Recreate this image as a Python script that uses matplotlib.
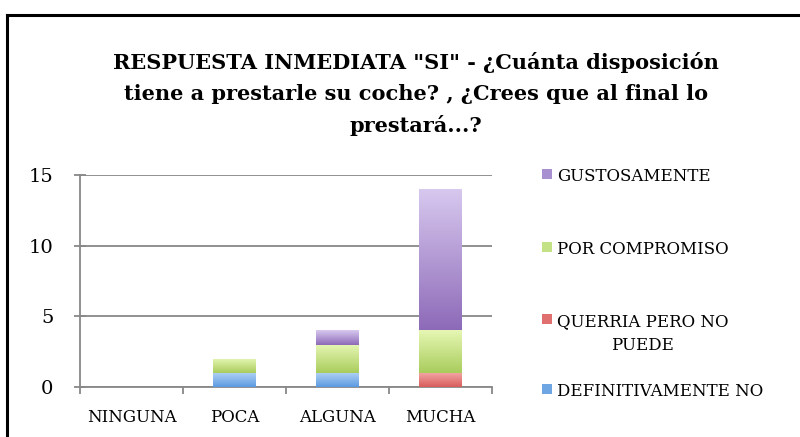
import numpy as np
import matplotlib.pyplot as plt
from matplotlib.patches import Rectangle
from matplotlib.lines import Line2D
from matplotlib.colors import LinearSegmentedColormap

categories = ['NINGUNA', 'POCA', 'ALGUNA', 'MUCHA']
series_names = ['DEFINITIVAMENTE NO', 'QUERRIA PERO NO\nPUEDE', 'POR COMPROMISO', 'GUSTOSAMENTE']
definitivamente_no = [0, 1, 1, 0]
querria_pero_no = [0, 0, 0, 1]
por_compromiso = [0, 1, 2, 3]
gustosamente = [0, 0, 1, 10]
yticks = [0, 5, 10, 15]

values = [definitivamente_no, querria_pero_no, por_compromiso, gustosamente]
# (top colour, bottom colour) for the gradient fill
grads = [('#b3d3f5', '#5b9ae0'),
         ('#f4a8a8', '#d85c5c'),
         ('#e6f7b4', '#a9cc5c'),
         ('#d8c9ef', '#8d6ab8')]
legend_colors = ['#6ea6e4', '#e07070', '#c2e285', '#a78fd0']

plt.rcParams['font.family'] = ['DejaVu Serif']

fig = plt.figure(figsize=(8, 4.37), dpi=100)
ax = fig.add_axes([80 / 800, 1 - 387 / 437, 412 / 800, 212 / 437])

x = np.arange(len(categories))
width = 0.41
bottom = np.zeros(len(categories))
grad = np.linspace(1, 0, 256).reshape(-1, 1)
for vals, (ctop, cbot) in zip(values, grads):
    cmap = LinearSegmentedColormap.from_list('g', [cbot, ctop])
    bars = ax.bar(x, vals, width, bottom=bottom, color='none', edgecolor='none', zorder=3)
    for b in bars:
        if b.get_height() <= 0:
            continue
        x0, y0 = b.get_x(), b.get_y()
        im = ax.imshow(grad, cmap=cmap, aspect='auto', vmin=0, vmax=1,
                       extent=(x0, x0 + b.get_width(), y0, y0 + b.get_height()),
                       zorder=3)
        im.set_clip_path(b)
    bottom += np.array(vals)

ax.set_xlim(-0.5, len(categories) - 0.5)
ax.set_ylim(0, 15)
ax.set_yticks(yticks)
ax.set_xticks(x)
ax.set_xticklabels(categories, fontsize=12)
ax.set_xticks(np.arange(len(categories) + 1) - 0.5, minor=True)
ax.tick_params(axis='x', which='major', length=0, pad=16)
ax.tick_params(axis='x', which='minor', length=5, width=1.3, color='#888888', direction='out')
ax.tick_params(axis='y', length=8, width=1.3, color='#888888', direction='inout',
               labelsize=14, pad=15)
ax.grid(axis='y', color='#888888', linewidth=1.3, zorder=0)
for s in ['top', 'right']:
    ax.spines[s].set_visible(False)
for s in ['left', 'bottom']:
    ax.spines[s].set_color('#888888')
    ax.spines[s].set_linewidth(1.3)

# legend, drawn by hand (top entry = last series)
legend_y = [390, 320, 248, 175]
for name, col, ly in zip(series_names, legend_colors, legend_y):
    fig.add_artist(Rectangle((542 / 800, 1 - (ly + 4) / 437), 10 / 800, 10 / 437,
                             transform=fig.transFigure, facecolor=col, edgecolor='none'))
    fig.text(557 / 800, 1 - (ly - 7) / 437, name, ha='left', va='top', fontsize=12,
             multialignment='center', linespacing=1.5)

fig.text(0.52, 1 - 94 / 437,
         'RESPUESTA INMEDIATA "SI" - ¿Cuánta disposición\n'
         'tiene a prestarle su coche? , ¿Crees que al final lo\nprestará...?',
         ha='center', va='center', fontsize=15, fontweight='bold', linespacing=1.65)

fig.add_artist(Line2D([7 / 800, 7 / 800], [0, 1 - 15 / 437], transform=fig.transFigure,
                      color='black', linewidth=2.2))
fig.add_artist(Line2D([7 / 800, 1], [1 - 15 / 437, 1 - 15 / 437], transform=fig.transFigure,
                      color='black', linewidth=2.2))

fig.savefig('out.png', dpi=100)
